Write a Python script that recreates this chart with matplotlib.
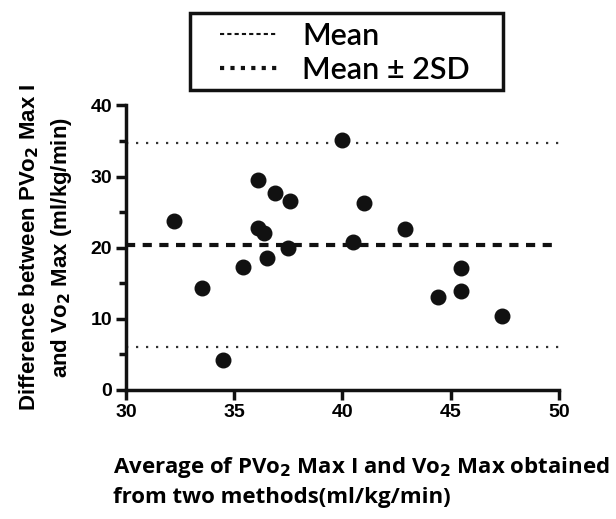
import numpy as np
import matplotlib.pyplot as plt
from matplotlib.lines import Line2D
from matplotlib.patches import Rectangle

# values
avg = [32.2, 33.5, 34.5, 35.4, 36.1, 36.1, 36.4, 36.5, 36.9, 37.6, 37.5,
       40.0, 40.5, 41.0, 42.9, 44.4, 45.5, 45.5, 47.4]
diff = [23.8, 14.4, 4.2, 17.3, 29.5, 22.8, 22.1, 18.6, 27.7, 26.5, 20.0,
        35.1, 20.8, 26.3, 22.6, 13.0, 17.2, 13.9, 10.4]
mean_diff = 20.35
upper = 34.7
lower = 6.05
xticks = [30, 35, 40, 45, 50]
yticks = [0, 10, 20, 30, 40]

plt.rcParams['font.family'] = ['Liberation Sans', 'DejaVu Sans']

fig = plt.figure(figsize=(6.16, 5.19), dpi=100)
ax = fig.add_axes([0.2045, 0.2486, 0.7025, 0.5484])

ax.scatter(avg, diff, s=110, color='#111111', zorder=3)
ax.axhline(mean_diff, color='#111111', lw=3, ls=(0, (2.2, 1.8)), zorder=2)
ax.axhline(upper, color='#333333', lw=1.6, ls=(0, (1, 3.5)), zorder=2)
ax.axhline(lower, color='#333333', lw=1.6, ls=(0, (1, 3.5)), zorder=2)

ax.set_xlim(30, 50)
ax.set_ylim(0, 40)
ax.set_xticks(xticks)
ax.set_yticks(yticks)
ax.set_yticks([5, 15, 25, 35], minor=True)
for s in ['top', 'right']:
    ax.spines[s].set_visible(False)
for s in ['left', 'bottom']:
    ax.spines[s].set_linewidth(2.5)
    ax.spines[s].set_color('#111111')
ax.tick_params(axis='both', which='major', length=7, width=2.5, labelsize=14,
               color='#111111', pad=3)
ax.tick_params(axis='y', which='minor', length=5, width=2.5, color='#111111')
for lab in ax.get_xticklabels() + ax.get_yticklabels():
    lab.set_fontweight('bold')

ax.set_ylabel('Difference between PVo$_\\mathbf{2}$ Max I\nand Vo$_\\mathbf{2}$ Max (ml/kg/min)',
              fontsize=16, fontweight='bold', labelpad=12, linespacing=1.45)

fig.text(0.183, 0.022, 'Average of PVo$_\\mathbf{2}$ Max I and Vo$_\\mathbf{2}$ Max obtained\nfrom two methods(ml/kg/min)',
         fontsize=16, fontweight='bold', family=['Open Sans', 'DejaVu Sans'],
         ha='left', va='bottom', linespacing=1.4)

handles = [Line2D([], [], color='#111111', lw=1.5, ls=(0, (2, 1.5))),
           Line2D([], [], color='#111111', lw=3, ls=(0, (1, 1.5)))]
leg = fig.legend(handles, ['Mean', 'Mean \u00b1 2SD'], loc='center',
                 bbox_to_anchor=(0.56, 0.898), frameon=False,
                 handlelength=1.9, labelspacing=0.2, handletextpad=0.8,
                 prop={'family': ['Lato', 'DejaVu Sans'], 'size': 22,
                       'weight': 'semibold'})
fig.add_artist(Rectangle((190 / 616, 1 - 90 / 519), 313 / 616, 77 / 519,
                         transform=fig.transFigure, fill=False,
                         edgecolor='#111111', lw=2.5))

fig.savefig('out.png', dpi=100)
